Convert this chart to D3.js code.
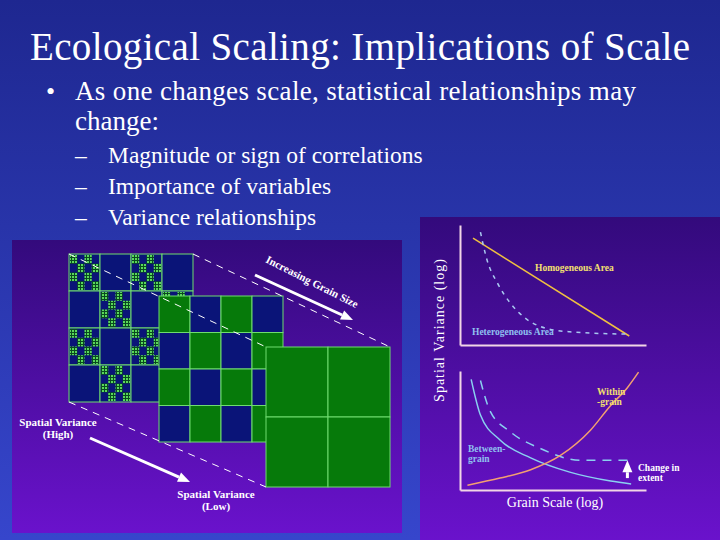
<!DOCTYPE html>
<html><head><meta charset="utf-8">
<script src="https://cdn.jsdelivr.net/npm/d3@7"></script>
<style>body{margin:0;background:#000}svg{display:block}</style>
</head><body>
<script>
// Slide text
const TITLE = 'Ecological Scaling: Implications of Scale';
const BULLET = ['As one changes scale, statistical relationships may', 'change:'];
const SUB_BULLETS = ['Magnitude or sign of correlations', 'Importance of variables', 'Variance relationships'];

// Grid layers: F = finely subdivided cell, B = blue, G = green
const GRID_FINE = ['FBFB', 'BFBF', 'FBFB', 'BFBF'];
const GRID_MID = ['GBGB', 'BGBG', 'GBGB', 'BGBG'];
const GRID_COARSE = ['GG', 'GG'];

// Variance curves, grain scale vs variance (0-100 units)
const HOMOGENEOUS = [[7, 89], [91, 7.5]];
const HETEROGENEOUS = [[11, 94], [14.5, 71], [20, 52], [27, 35], [35, 22.5], [46, 14], [59, 11], [91, 9]];
const BETWEEN_GRAIN = [[6, 93], [11, 63], [21.5, 42], [38, 27], [59, 15], [81, 7.5], [92, 5]];
const BETWEEN_EXTENT = [[11, 92], [16, 67], [27, 49], [43, 35], [64.5, 25], [90, 25]];
const WITHIN_GRAIN = [[4, 4], [21.5, 10], [38, 17], [54, 29], [70, 50], [81, 71], [90, 86], [96, 99]];

const W = 720, H = 540;
const BLUE = '#0a1478', GREEN = '#067a0a', LINE = '#6fdc6f';

let svg = d3.select('body').append('svg').attr('width', W).attr('height', H)
    .attr('font-family', 'Liberation Serif');
let defs = svg.append('defs');

let bg = defs.append('linearGradient').attr('id', 'bg').attr('x1', 0).attr('y1', 0).attr('x2', 0).attr('y2', 1);
bg.append('stop').attr('offset', 0).attr('stop-color', '#1e2790');
bg.append('stop').attr('offset', 1).attr('stop-color', '#3646cc');
let panel = defs.append('linearGradient').attr('id', 'panel').attr('x1', 0).attr('y1', 0).attr('x2', 0).attr('y2', 1);
panel.append('stop').attr('offset', 0).attr('stop-color', '#330a7c');
panel.append('stop').attr('offset', 1).attr('stop-color', '#6a12cc');
let dots = defs.append('pattern').attr('id', 'dots').attr('width', 3).attr('height', 3)
    .attr('patternUnits', 'userSpaceOnUse');
dots.append('rect').attr('width', 3).attr('height', 3).attr('fill', '#0a4a20');
dots.append('rect').attr('width', 2).attr('height', 2).attr('fill', '#5ad85a');

svg.append('rect').attr('width', W).attr('height', H).attr('fill', 'url(#bg)');

// Text
svg.append('text').attr('x', 360).attr('y', 60).attr('text-anchor', 'middle')
    .attr('font-size', 39).attr('fill', '#fff').attr('textLength', 660).text(TITLE);
svg.append('text').attr('x', 46).attr('y', 100).attr('font-size', 26)
    .attr('fill', '#fff').text('•');
BULLET.forEach(function(t, i) {
  let s = svg.append('text').attr('x', 75).attr('y', 100 + i * 30)
      .attr('font-size', 27).attr('fill', '#fff').text(t);
  if (i == 0) s.attr('textLength', 561);
});
SUB_BULLETS.forEach(function(t, i) {
  let y = 163 + i * 31;
  svg.append('text').attr('x', 75).attr('y', y)
      .attr('font-size', 23.5).attr('fill', '#fff').text('–');
  svg.append('text').attr('x', 108).attr('y', y)
      .attr('font-size', 23.5).attr('fill', '#fff').text(t);
});

// Left panel
svg.append('rect').attr('x', 12).attr('y', 240).attr('width', 390).attr('height', 293).attr('fill', 'url(#panel)');

function drawGrid(rows, x0, y0, w, h) {
  let g = svg.append('g');
  let n = rows.length;
  let xs = d3.scaleBand().domain(d3.range(n)).range([x0, x0 + w]);
  let ys = d3.scaleBand().domain(d3.range(n)).range([y0, y0 + h]);
  rows.forEach(function(row, r) {
    row.split('').forEach(function(c, k) {
      let cx = xs(k), cy = ys(r), bw = xs.bandwidth(), bh = ys.bandwidth();
      g.append('rect').attr('x', cx).attr('y', cy).attr('width', bw).attr('height', bh)
          .attr('fill', c == 'G' ? GREEN : BLUE);
      if (c == 'F') {
        let sx = d3.scaleBand().domain(d3.range(4)).range([cx + 1, cx + bw - 1]);
        let sy = d3.scaleBand().domain(d3.range(4)).range([cy + 1, cy + bh - 1]);
        for (let a = 0; a < 4; a++) for (let b = 0; b < 4; b++) {
          if ((a + b) % 2 == 0) {
            g.append('rect').attr('x', sx(b)).attr('y', sy(a)).attr('width', sx.bandwidth())
                .attr('height', sy.bandwidth()).attr('fill', 'url(#dots)');
          }
        }
      }
      g.append('rect').attr('x', cx).attr('y', cy).attr('width', bw).attr('height', bh)
          .attr('fill', 'none').attr('stroke', LINE).attr('stroke-width', 1);
    });
  });
}
drawGrid(GRID_FINE, 69, 254, 124, 148);
drawGrid(GRID_MID, 159, 296, 124, 146);
drawGrid(GRID_COARSE, 266, 347, 124, 140);

// Perspective dashed lines
[[69, 254, 266, 347], [193, 254, 390, 347], [69, 402, 266, 487]].forEach(function(l) {
  svg.append('line').attr('x1', l[0]).attr('y1', l[1]).attr('x2', l[2]).attr('y2', l[3])
      .attr('stroke', '#fff').attr('stroke-width', 1).attr('stroke-dasharray', '7,6');
});

function arrow(x1, y1, x2, y2, w) {
  let ang = Math.atan2(y2 - y1, x2 - x1);
  let hx = x2 - 12 * Math.cos(ang), hy = y2 - 12 * Math.sin(ang);
  svg.append('line').attr('x1', x1).attr('y1', y1).attr('x2', hx).attr('y2', hy)
      .attr('stroke', '#fff').attr('stroke-width', w);
  let px = Math.sin(ang) * 5, py = -Math.cos(ang) * 5;
  svg.append('path').attr('d', 'M' + x2 + ',' + y2 + 'L' + (hx + px) + ',' + (hy + py) + 'L' + (hx - px) + ',' + (hy - py) + 'Z')
      .attr('fill', '#fff');
}
arrow(255, 275, 353, 320, 3);
arrow(90, 438, 190, 482, 3);

function smallText(x, y, lines, color, size, anchor) {
  let t = svg.append('text').attr('font-size', size).attr('font-weight', 'bold')
      .attr('fill', color).attr('text-anchor', anchor || 'start');
  lines.forEach(function(l, i) { t.append('tspan').attr('x', x).attr('y', y + i * size * 1.1).text(l); });
  return t;
}
smallText(0, 0, ['Increasing Grain Size'], '#fff', 11)
    .attr('transform', 'translate(265,262) rotate(27)');
smallText(58, 426, ['Spatial Variance', '(High)'], '#fff', 11, 'middle');
smallText(216, 498, ['Spatial Variance', '(Low)'], '#fff', 11, 'middle');

// Right panel
svg.append('rect').attr('x', 420).attr('y', 217).attr('width', 300).attr('height', 323).attr('fill', 'url(#panel)');
const AXIS = '#f2d6e6';
let xScale = d3.scaleLinear().domain([0, 100]).range([460, 646]);
let yTop = d3.scaleLinear().domain([0, 100]).range([345, 225]);
let yBot = d3.scaleLinear().domain([0, 100]).range([490, 371]);

[yTop, yBot].forEach(function(ys) {
  svg.append('g').attr('transform', 'translate(460,0)')
      .call(d3.axisLeft(ys).tickValues([]).tickSizeOuter(0))
      .call(function(g) { g.select('.domain').attr('stroke', AXIS).attr('stroke-width', 2); });
  svg.append('g').attr('transform', 'translate(0,' + ys(0) + ')')
      .call(d3.axisBottom(xScale).tickValues([]).tickSizeOuter(0))
      .call(function(g) { g.select('.domain').attr('stroke', AXIS).attr('stroke-width', 2); });
});

function curve(data, ys, color, dash, width) {
  let line = d3.line().x(function(d) { return xScale(d[0]); }).y(function(d) { return ys(d[1]); })
      .curve(d3.curveMonotoneX);
  svg.append('path').attr('d', line(data)).attr('fill', 'none').attr('stroke', color)
      .attr('stroke-width', width || 1.5).attr('stroke-dasharray', dash || null);
}
curve(HOMOGENEOUS, yTop, '#f0c040', null, 1.5);
curve(HETEROGENEOUS, yTop, '#a8c8f0', '4,5', 1.5);
curve(BETWEEN_GRAIN, yBot, '#8ad0f0', null, 1.5);
curve(BETWEEN_EXTENT, yBot, '#8ad0f0', '9,7', 1.5);
curve(WITHIN_GRAIN, yBot, '#f4a070', null, 1.5);
// Change in extent arrow
arrow(xScale(90), yBot(10), xScale(90), yBot(25), 3);

smallText(535, 271, ['Homogeneous Area'], '#f4e070', 9.5);
smallText(472, 335, ['Heterogeneous Area'], '#90c0f0', 9.5);
smallText(597, 395, ['Within', '-grain'], '#f4e070', 9.5);
smallText(468, 452, ['Between-', 'grain'], '#90c0f0', 9.5);
smallText(638, 471, ['Change in', 'extent'], '#fff', 9.5);

svg.append('text').attr('transform', 'translate(444,330) rotate(-90)').attr('text-anchor', 'middle')
    .attr('font-size', 14).attr('fill', '#fff').attr('letter-spacing', 1)
    .text('Spatial Variance (log)');
svg.append('text').attr('x', 555).attr('y', 507).attr('text-anchor', 'middle')
    .attr('font-size', 14).attr('fill', '#fff').text('Grain Scale (log)');
</script>
</body></html>
